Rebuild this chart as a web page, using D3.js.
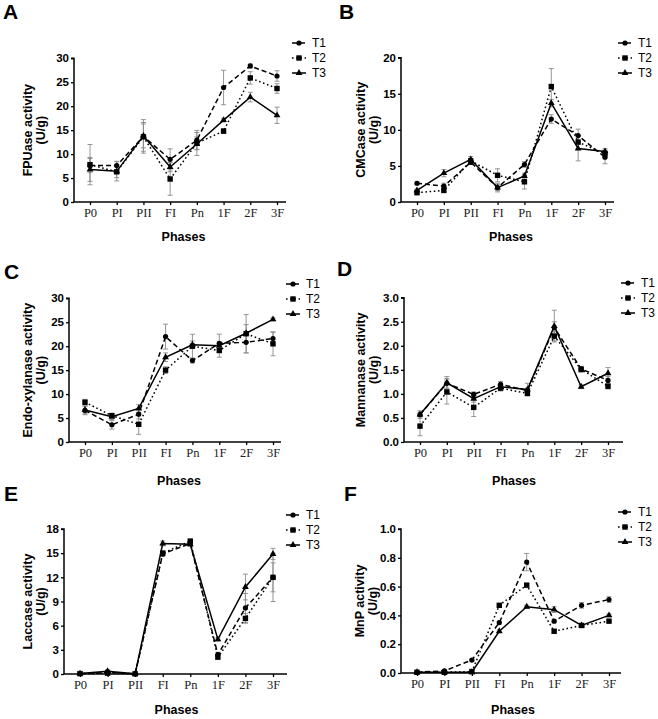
<!DOCTYPE html>
<html>
<head>
<meta charset="utf-8">
<script src="https://cdn.jsdelivr.net/npm/d3@7"></script>
<style>
body{margin:0;background:#fff;}
svg{display:block;}
</style>
</head>
<body>
<svg id="chart" width="658" height="719"></svg>
<script>
// ---------------- DATA ----------------
const phases = ["P0","PI","PII","FI","Pn","1F","2F","3F"];
const seriesNames = ["T1","T2","T3"];

// A: FPUase
const fpuT1 = [7.6, 7.6, 13.7, 8.9, 12.9, 23.9, 28.4, 26.3];
const fpuT1e = [1.5, 0.9, 3.5, 2.2, 2.0, 3.6, 0.4, 1.1];
const fpuT2 = [7.8, 6.3, 13.6, 4.8, 12.3, 14.8, 25.9, 23.7];
const fpuT2e = [4.2, 1.2, 3.0, 3.4, 1.3, 0.5, 1.3, 1.0];
const fpuT3 = [6.8, 6.4, 13.8, 7.3, 12.1, 17.1, 21.9, 18.1];
const fpuT3e = [2.5, 2.0, 2.5, 1.0, 2.4, 0.4, 1.0, 1.7];
const fpuTicks = [0, 5, 10, 15, 20, 25, 30];

// B: CMCase
const cmcT1 = [2.6, 2.2, 5.5, 2.0, 5.2, 11.5, 9.2, 6.2];
const cmcT1e = [0.2, 0.4, 0.3, 0.4, 0.4, 0.6, 0.9, 0.9];
const cmcT2 = [1.3, 1.6, 5.7, 3.7, 2.8, 16.0, 8.3, 6.7];
const cmcT2e = [0.3, 0.2, 0.3, 0.9, 1.0, 2.5, 0.9, 0.5];
const cmcT3 = [1.6, 4.0, 5.9, 2.0, 3.6, 13.7, 7.4, 7.0];
const cmcT3e = [0.2, 0.5, 0.4, 0.6, 0.4, 0.5, 1.7, 0.4];
const cmcTicks = [0, 5, 10, 15, 20];

// C: Endo-xylanase
const xylT1 = [6.6, 3.6, 5.8, 22.0, 17.0, 20.6, 20.8, 21.6];
const xylT1e = [0.9, 0.9, 1.0, 2.6, 0.5, 1.9, 2.2, 1.3];
const xylT2 = [8.3, 5.5, 3.7, 15.0, 20.0, 19.1, 22.6, 20.5];
const xylT2e = [0.6, 0.5, 2.1, 0.7, 2.5, 1.4, 4.0, 2.5];
const xylT3 = [6.7, 5.3, 7.0, 17.7, 20.3, 20.1, 22.7, 25.6];
const xylT3e = [0.8, 0.6, 0.8, 0.9, 0.8, 0.8, 1.8, 0.3];
const xylTicks = [0, 5, 10, 15, 20, 25, 30];

// D: Mannanase
const manT1 = [0.57, 1.22, 0.99, 1.20, 1.07, 2.38, 1.52, 1.28];
const manT1e = [0.05, 0.10, 0.05, 0.06, 0.05, 0.12, 0.05, 0.08];
const manT2 = [0.33, 1.04, 0.72, 1.12, 1.01, 2.20, 1.51, 1.16];
const manT2e = [0.20, 0.25, 0.19, 0.06, 0.04, 0.10, 0.06, 0.06];
const manT3 = [0.57, 1.23, 0.90, 1.15, 1.09, 2.41, 1.15, 1.43];
const manT3e = [0.08, 0.13, 0.07, 0.06, 0.13, 0.33, 0.04, 0.12];
const manTicks = [0, 0.5, 1.0, 1.5, 2.0, 2.5, 3.0];

// E: Laccase
const lacT1 = [0.05, 0.2, 0.02, 14.9, 16.2, 2.4, 8.2, 12.0];
const lacT1e = [0.1, 0.2, 0.05, 0.3, 0.3, 0.3, 1.8, 1.8];
const lacT2 = [0.05, 0.1, 0.02, 15.0, 16.5, 2.1, 6.9, 12.0];
const lacT2e = [0.1, 0.1, 0.05, 0.3, 0.2, 0.3, 0.6, 3.0];
const lacT3 = [0.05, 0.35, 0.02, 16.2, 16.1, 4.3, 10.8, 14.9];
const lacT3e = [0.1, 0.2, 0.05, 0.3, 0.2, 0.2, 1.6, 0.7];
const lacTicks = [0, 3, 6, 9, 12, 15, 18];

// F: MnP
const mnpT1 = [0.005, 0.015, 0.09, 0.35, 0.77, 0.36, 0.47, 0.51];
const mnpT1e = [0.003, 0.003, 0.005, 0.01, 0.06, 0.01, 0.02, 0.02];
const mnpT2 = [0.005, 0.005, 0.01, 0.47, 0.61, 0.29, 0.33, 0.36];
const mnpT2e = [0.003, 0.003, 0.003, 0.01, 0.01, 0.01, 0.01, 0.01];
const mnpT3 = [0.005, 0.005, 0.005, 0.29, 0.46, 0.44, 0.33, 0.40];
const mnpT3e = [0.003, 0.003, 0.003, 0.01, 0.01, 0.02, 0.01, 0.01];
const mnpTicks = [0, 0.2, 0.4, 0.6, 0.8, 1.0];

// ---------------- PANELS (data refs) ----------------
const panelData = [
  {letter:"A", ylabel:"FPUase activity", unit:"(U/g)", ticks:fpuTicks, fmt:d3.format("d"),
   vals:[fpuT1,fpuT2,fpuT3], errs:[fpuT1e,fpuT2e,fpuT3e]},
  {letter:"B", ylabel:"CMCase activity", unit:"(U/g)", ticks:cmcTicks, fmt:d3.format("d"),
   vals:[cmcT1,cmcT2,cmcT3], errs:[cmcT1e,cmcT2e,cmcT3e]},
  {letter:"C", ylabel:"Endo-xylanase activity", unit:"(U/g)", ticks:xylTicks, fmt:d3.format("d"),
   vals:[xylT1,xylT2,xylT3], errs:[xylT1e,xylT2e,xylT3e]},
  {letter:"D", ylabel:"Mannanase activity", unit:"(U/g)", ticks:manTicks, fmt:d3.format(".1f"),
   vals:[manT1,manT2,manT3], errs:[manT1e,manT2e,manT3e]},
  {letter:"E", ylabel:"Laccase activity", unit:"(U/g)", ticks:lacTicks, fmt:d3.format("d"),
   vals:[lacT1,lacT2,lacT3], errs:[lacT1e,lacT2e,lacT3e]},
  {letter:"F", ylabel:"MnP activity", unit:"(U/g)", ticks:mnpTicks, fmt:d3.format(".1f"),
   vals:[mnpT1,mnpT2,mnpT3], errs:[mnpT1e,mnpT2e,mnpT3e]}
];

// ---------------- LAYOUT ----------------
const layout = [
  {ax:74,  top:58.3, bot:202, x0:90,  x1:277, xEnd:286, lx:292, ly:43,  lab:[3,19],   yl1:27,  yl2:40,  phY:241},
  {ax:401, top:57.7, bot:202, x0:417, x1:605, xEnd:614, lx:618, ly:43,  lab:[339,19], yl1:360, yl2:373, phY:241},
  {ax:69,  top:298.3,bot:442, x0:85,  x1:273, xEnd:281, lx:286, ly:284, lab:[4,279],  yl1:27,  yl2:40,  phY:485},
  {ax:404, top:297.7,bot:442, x0:420, x1:608, xEnd:623, lx:621, ly:283, lab:[337,276],yl1:360, yl2:373, phY:485},
  {ax:64,  top:529,  bot:674, x0:80,  x1:273, xEnd:287, lx:286, ly:515, lab:[4,501],  yl1:27,  yl2:40,  phY:714},
  {ax:401, top:529,  bot:673, x0:417, x1:609, xEnd:621, lx:618, ly:512, lab:[344,501],yl1:359, yl2:372, phY:714}
];

const dashes = ["5,3", "1.6,2.6", null];
const SANS = "'Liberation Sans', Arial, sans-serif";
const SERIF = "'Liberation Serif', 'Times New Roman', serif";
const svg = d3.select("#chart");

function drawMarker(g, type, x, y) {
  if (type === 0) {
    g.append("circle").attr("cx", x).attr("cy", y).attr("r", 2.6).attr("fill", "#000");
  } else if (type === 1) {
    g.append("rect").attr("x", x-2.7).attr("y", y-2.7).attr("width", 5.4).attr("height", 5.4).attr("fill", "#000");
  } else {
    g.append("path").attr("d", d3.symbol(d3.symbolTriangle, 20)()).attr("transform", `translate(${x},${y})`).attr("fill", "#000");
  }
}

panelData.forEach((p, i) => {
  const L = layout[i];
  const g = svg.append("g");
  const x = d3.scalePoint().domain(phases).range([L.x0, L.x1]);
  const ymax = p.ticks[p.ticks.length-1];
  const y = d3.scaleLinear().domain([0, ymax]).range([L.bot, L.top]);

  // panel letter
  g.append("text").attr("x", L.lab[0]).attr("y", L.lab[1]).text(p.letter)
    .attr("font-family", SANS).attr("font-weight", "bold").attr("font-size", 21);

  // error bars
  p.vals.forEach((vals, s) => {
    const errs = p.errs[s];
    vals.forEach((v, k) => {
      const cx = x(phases[k]);
      const lo = Math.max(0, v - errs[k]), hi = v + errs[k];
      const eg = g.append("g").attr("stroke", "#8a8a8a").attr("stroke-width", 0.9);
      eg.append("line").attr("x1", cx).attr("x2", cx).attr("y1", y(lo)).attr("y2", y(hi));
      eg.append("line").attr("x1", cx-2.5).attr("x2", cx+2.5).attr("y1", y(hi)).attr("y2", y(hi));
      eg.append("line").attr("x1", cx-2.5).attr("x2", cx+2.5).attr("y1", y(lo)).attr("y2", y(lo));
    });
  });

  // lines
  p.vals.forEach((vals, s) => {
    const line = d3.line().x((d, k) => x(phases[k])).y(d => y(d));
    g.append("path").datum(vals).attr("d", line).attr("fill", "none")
      .attr("stroke", "#000").attr("stroke-width", 1.5)
      .attr("stroke-dasharray", dashes[s]);
  });
  // markers
  p.vals.forEach((vals, s) => {
    vals.forEach((v, k) => drawMarker(g, s, x(phases[k]), y(v)));
  });

  // y axis
  const yAxis = d3.axisLeft(y).tickValues(p.ticks).tickFormat(p.fmt).tickSize(3).tickPadding(2);
  const ya = g.append("g").attr("transform", `translate(${L.ax},0)`).call(yAxis);
  ya.select(".domain").attr("stroke", "#000").attr("stroke-width", 1.5).attr("d", `M-3,${L.top}H0V${L.bot}`);
  ya.selectAll(".tick line").attr("stroke", "#000").attr("stroke-width", 1.3);
  ya.selectAll(".tick text").attr("font-family", SANS).attr("font-weight", "bold").attr("font-size", 11.5).attr("fill", "#000");

  // x axis
  const xAxis = d3.axisBottom(x).tickSize(3).tickPadding(3);
  const xa = g.append("g").attr("transform", `translate(0,${L.bot})`).call(xAxis);
  xa.select(".domain").attr("stroke", "#000").attr("stroke-width", 1.5).attr("d", `M${L.ax},0H${L.xEnd}`);
  xa.selectAll(".tick line").attr("stroke", "#000").attr("stroke-width", 1.3);
  xa.selectAll(".tick text").attr("font-family", SERIF).attr("font-size", 12.5).attr("fill", "#222");

  // x label
  g.append("text").attr("x", (L.x0 + L.x1)/2).attr("y", L.phY).attr("text-anchor", "middle")
    .attr("font-family", SANS).attr("font-weight", "bold").attr("font-size", 12.5).text("Phases");

  // y label
  const ymid = (L.top + L.bot)/2;
  g.append("text").attr("transform", `translate(${L.yl1 + 4.5},${ymid}) rotate(-90)`).attr("text-anchor", "middle")
    .attr("font-family", SANS).attr("font-weight", "bold").attr("font-size", 12.5).text(p.ylabel);
  g.append("text").attr("transform", `translate(${L.yl2 + 4.5},${ymid}) rotate(-90)`).attr("text-anchor", "middle")
    .attr("font-family", SANS).attr("font-weight", "bold").attr("font-size", 12.5).text(p.unit);

  // legend
  seriesNames.forEach((name, s) => {
    const ly = L.ly + s * 15;
    g.append("line").attr("x1", L.lx).attr("x2", L.lx + 14).attr("y1", ly).attr("y2", ly)
      .attr("stroke", "#000").attr("stroke-width", 1.5).attr("stroke-dasharray", dashes[s]);
    drawMarker(g, s, L.lx + 7, ly);
    g.append("text").attr("x", L.lx + 20).attr("y", ly + 4).text(name)
      .attr("font-family", SANS).attr("font-size", 12).attr("fill", "#000");
  });
});
</script>
</body>
</html>
